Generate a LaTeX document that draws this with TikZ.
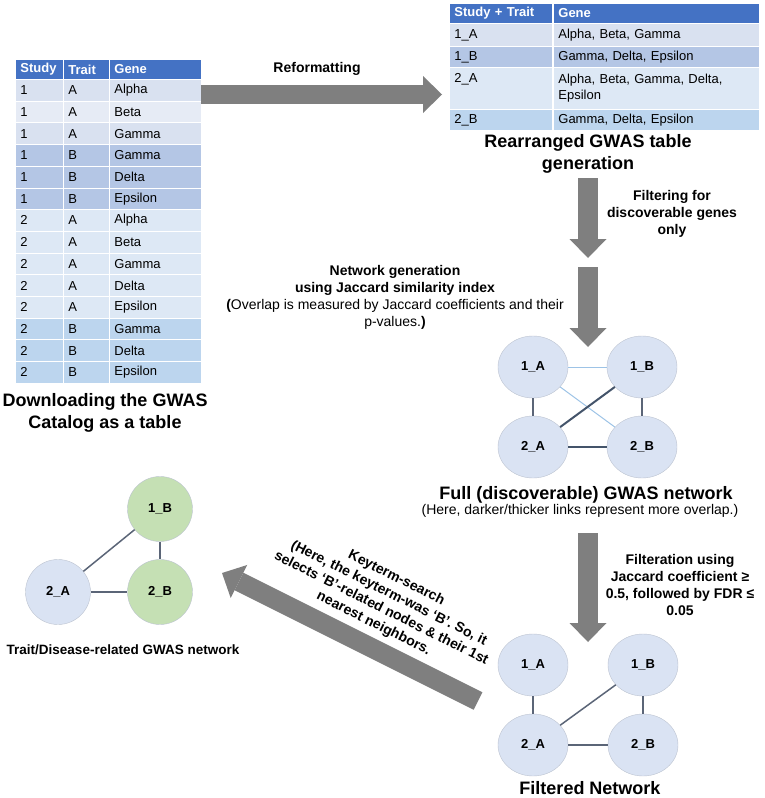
\documentclass[tikz,border=0pt]{standalone}
\usepackage{fontspec}
\setmainfont{Liberation Sans}
\usetikzlibrary{arrows.meta,shapes.geometric}
\definecolor{hdr}{HTML}{4472C4}
\definecolor{rowa}{HTML}{D9E1F0}
\definecolor{rowb}{HTML}{E6EBF5}
\definecolor{rowc}{HTML}{B4C6E5}
\definecolor{rowd}{HTML}{DDE8F5}
\definecolor{rowe}{HTML}{BCD5EE}
\definecolor{arrowgray}{HTML}{7F7F7F}
\definecolor{nodefill}{HTML}{DAE3F3}
\definecolor{nodeline}{HTML}{BCC3D0}
\definecolor{greenfill}{HTML}{C5E0B4}
\definecolor{darkedge}{HTML}{44546A}
\definecolor{midedge}{HTML}{5B6577}
\definecolor{lightedge}{HTML}{9DC3E6}

\begin{document}
\begin{tikzpicture}[x=1pt, y=-1pt,
			cell/.style={anchor=north west, minimum height=21.7pt, inner xsep=5pt, inner ysep=0pt, align=left, draw=white, line width=0.8pt, font=\fontsize{13}{16}\selectfont},
			headcell/.style={cell, minimum height=20pt, fill=hdr, text=white, font=\fontsize{13}{16}\selectfont\bfseries},
			netnode/.style={ellipse, draw=nodeline, fill=nodefill, minimum width=70pt, minimum height=62pt, inner sep=0pt, font=\fontsize{13}{16}\selectfont\bfseries},
			hitnode/.style={circle, draw=nodeline, fill=greenfill, minimum size=65pt, inner sep=0pt, font=\fontsize{13}{16}\selectfont\bfseries},
			heading/.style={align=center, font=\fontsize{18}{22}\selectfont\bfseries},
			notetext/.style={align=center, font=\fontsize{14}{17}\selectfont\bfseries},
			bigarrow/.style={draw=arrowgray, line width=19.5pt, -{Triangle[length=19pt, width=37pt, line width=0pt]}},
			linkstrong/.style={draw=darkedge, line width=2pt},
			linkmid/.style={draw=midedge, line width=1.5pt},
			linkweak/.style={draw=lightedge, line width=1pt}]
			
			\useasboundingbox (0,0) rectangle (764,798);
			
			% GWAS catalog table
			\node[headcell, text width=38pt] (hstudy) at (15,59) {Study};
			\node[headcell, text width=36pt] (htrait) at (63,59) {Trait};
			\node[headcell, text width=82pt] (hgene) at (109,59) {Gene};
			\foreach \s/\t/\g/\c [count=\i] in {1/A/Alpha/rowa, 1/A/Beta/rowb, 1/A/Gamma/rowa,
				1/B/Gamma/rowc, 1/B/Delta/rowc, 1/B/Epsilon/rowc,
				2/A/Alpha/rowd, 2/A/Beta/rowd, 2/A/Gamma/rowd, 2/A/Delta/rowd, 2/A/Epsilon/rowd,
				2/B/Gamma/rowe, 2/B/Delta/rowe, 2/B/Epsilon/rowe} {
				\node[cell, fill=\c, text width=38pt] (s\i) at (15,{79+21.7*(\i-1)}) {\s};
				\node[cell, fill=\c, text width=36pt] (t\i) at (63,{79+21.7*(\i-1)}) {\t};
				\node[cell, fill=\c, text width=82pt] (g\i) at (109,{79+21.7*(\i-1)}) {\g};
			}
			\node[heading] (catalog) at (105,413) {Downloading the GWAS\\Catalog as a table};
			
			% rearranged table
			\node[headcell, text width=93pt] (hkey) at (449,3) {Study + Trait};
			\node[headcell, text width=196pt] (hgenes) at (553,3) {Gene};
			\foreach \k/\g/\c/\top/\h [count=\i] in {1\_A/{Alpha, Beta, Gamma}/rowa/23/23,
				1\_B/{Gamma, Delta, Epsilon}/rowc/46/21,
				{2\_A\\\strut}/{Alpha, Beta, Gamma, Delta,\\Epsilon}/rowd/67/42,
				2\_B/{Gamma, Delta, Epsilon}/rowe/109/21} {
				\node[cell, fill=\c, minimum height=\h pt, text width=93pt] (k\i) at (449,\top) {\k};
				\node[cell, fill=\c, minimum height=\h pt, text width=196pt] (v\i) at (553,\top) {\g};
			}
			\node[heading] (rearranged) at (588,154) {Rearranged GWAS table\\generation};
			
			% block arrows
			\coordinate (reformA) at (201,94.5);
			\coordinate (reformB) at (442,94.5);
			\coordinate (discA) at (588,178);
			\coordinate (discB) at (588,258);
			\coordinate (jacA) at (588,267);
			\coordinate (jacB) at (588,347);
			\coordinate (cutA) at (588,533);
			\coordinate (cutB) at (588,642);
			\coordinate (keyA) at (478,701);
			\coordinate (keyB) at (222,573);
			\draw[bigarrow] (reformA) -- (reformB);
			\draw[bigarrow] (discA) -- (discB);
			\draw[bigarrow] (jacA) -- (jacB);
			\draw[bigarrow] (cutA) -- (cutB);
			\draw[bigarrow] (keyA) -- (keyB);
			
			\node[notetext] (reformat) at (317,69) {Reformatting};
			\node[notetext] (filtering) at (672,214) {Filtering for\\discoverable genes\\only};
			\node[notetext] (netgen) at (395,297) {Network generation\\using Jaccard similarity index\\{\mdseries{\bfseries (}Overlap is measured by Jaccard coefficients and their}\\{\mdseries p-values.{\bfseries )}}};
			\node[notetext] (filteration) at (680,585) {Filteration using\\Jaccard coefficient ≥\\0.5, followed by FDR ≤\\0.05};
			\node[notetext, rotate=-26.6] (keyterm) at (385,601) {Keyterm-search\\(Here, the keyterm-was ‘B’. So, it\\selects ‘B’-related nodes \& their 1st\\nearest neighbors.};
			
			% full network
			\node[netnode] (f1a) at (533,367) {1\_A};
			\node[netnode] (f1b) at (642,367) {1\_B};
			\node[netnode] (f2a) at (533,447) {2\_A};
			\node[netnode] (f2b) at (642,447) {2\_B};
			\draw[linkweak] (f1a) -- (f1b);
			\draw[linkweak] (f1a) -- (f2b);
			\draw[linkmid] (f1a) -- (f2a);
			\draw[linkmid] (f1b) -- (f2b);
			\draw[linkstrong] (f1b) -- (f2a);
			\draw[linkstrong] (f2a) -- (f2b);
			\node[heading] (fullnet) at (586,495) {Full (discoverable) GWAS network};
			\node[font=\fontsize{14}{17}\selectfont] (fullnote) at (580,511) {(Here, darker/thicker links represent more overlap.)};
			
			% filtered network
			\node[netnode] (p1a) at (533,665) {1\_A};
			\node[netnode] (p1b) at (643,665) {1\_B};
			\node[netnode] (p2a) at (533,745) {2\_A};
			\node[netnode] (p2b) at (643,745) {2\_B};
			\draw[linkmid] (p1a) -- (p2a);
			\draw[linkmid] (p1b) -- (p2a);
			\draw[linkmid] (p1b) -- (p2b);
			\draw[linkmid] (p2a) -- (p2b);
			\node[heading] (filtered) at (590,788) {Filtered Network};
			
			% trait network
			\node[hitnode] (h1b) at (160,509) {1\_B};
			\node[hitnode, fill=nodefill] (h2a) at (58,592) {2\_A};
			\node[hitnode] (h2b) at (160,592) {2\_B};
			\draw[linkmid] (h2a) -- (h1b);
			\draw[linkmid] (h1b) -- (h2b);
			\draw[linkmid] (h2a) -- (h2b);
			\node[font=\fontsize{13.5}{16}\selectfont\bfseries] (traitnet) at (123,650) {Trait/Disease-related GWAS network};
			\end{tikzpicture}
\end{document}
